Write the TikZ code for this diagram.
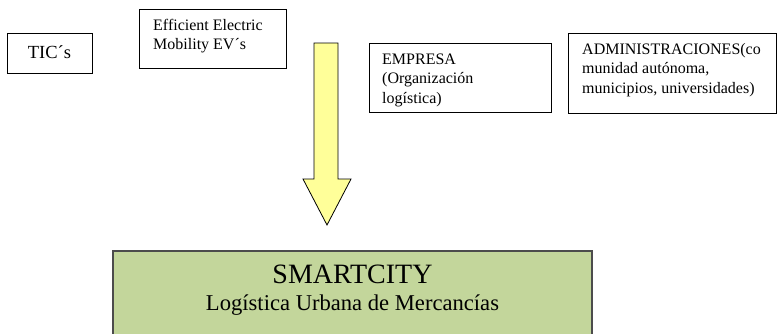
\documentclass[tikz,border=0pt]{standalone}
\usepackage{fontspec}
\newfontfamily\tnr{LiberationSerif}[Extension=.ttf,UprightFont=*-Regular]
\begin{document}
\begin{tikzpicture}[x=1pt,y=-1pt,
  box/.style={draw=black,line width=0.8pt,fill=white,inner sep=0pt,anchor=north west},
  txt/.style={anchor=base west,inner sep=0pt,font=\tnr\fontsize{16}{19}\selectfont},
  bigarrow/.style={draw=black,line width=0.8pt,fill=arrowyellow,line join=miter},
  greenbox/.style={draw=black!70,line width=1.5pt,fill=smartgreen}]
\definecolor{arrowyellow}{HTML}{FFFF99}
\definecolor{smartgreen}{HTML}{C3D69B}
\useasboundingbox (0,0) rectangle (778,333);
\clip (0,0) rectangle (778,333);
% boxes
\node[box,minimum width=85pt,minimum height=40pt] (tic) at (7,33) {};
\node[anchor=base,inner sep=0pt,font=\tnr\fontsize{18.5}{22}\selectfont] (tict) at (49.5,58) {TIC´s};
\node[box,minimum width=147pt,minimum height=59pt] (eem) at (139,9) {};
\node[txt] (eem1) at (153,30.5) {Efficient Electric};
\node[txt] (eem2) at (153,49) {Mobility EV´s};
\node[box,minimum width=182pt,minimum height=69pt] (emp) at (369,43) {};
\node[txt] (emp1) at (382,64) {EMPRESA};
\node[txt] (emp2) at (382,83.5) {(Organización};
\node[txt] (emp3) at (382,103) {logística)};
\node[box,minimum width=208pt,minimum height=80pt] (adm) at (568,33) {};
\node[txt] (adm1) at (582,54) {ADMINISTRACIONES(co};
\node[txt] (adm2) at (582,73.5) {munidad autónoma,};
\node[txt] (adm3) at (582,93) {municipios, universidades)};
% arrow
\draw[bigarrow] (314,43) -- (338,43) -- (338,179) -- (351,179) -- (327,225) -- (303,179) -- (314,179) -- cycle;
% green box
\draw[greenbox] (113,251) rectangle (592,345);
\node[anchor=base,inner sep=0pt,font=\tnr\fontsize{28}{32}\selectfont] (sc) at (352.5,283) {SMARTCITY};
\node[anchor=base,inner sep=0pt,font=\tnr\fontsize{22.6}{26}\selectfont] (lum) at (352.5,310.5) {Logística Urbana de Mercancías};
\end{tikzpicture}
\end{document}
